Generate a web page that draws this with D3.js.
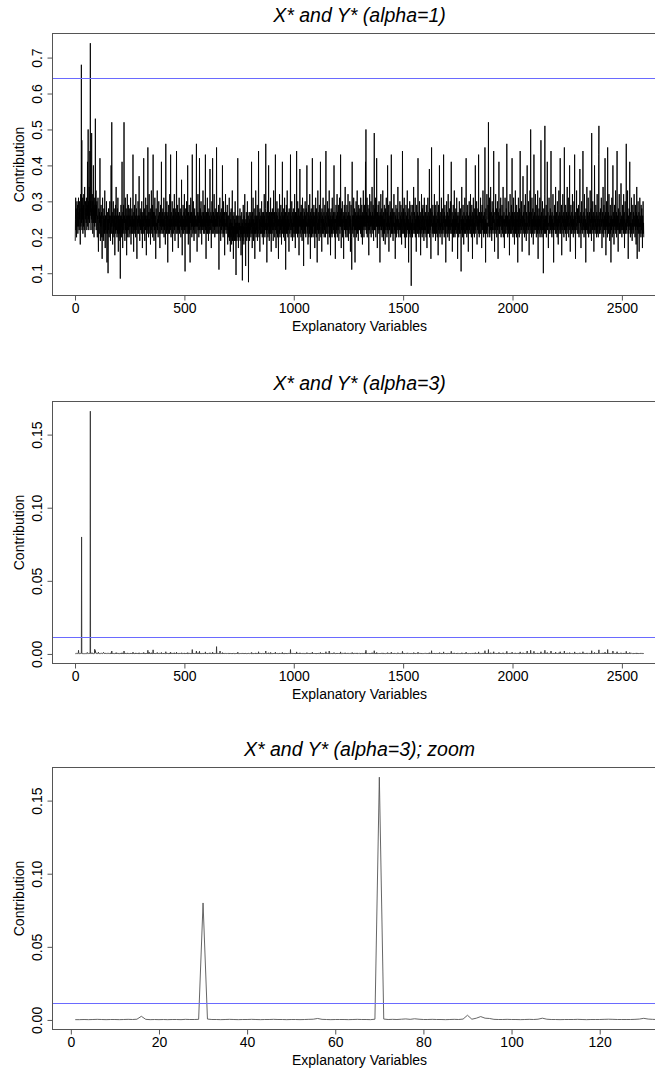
<!DOCTYPE html>
<html>
<head>
<meta charset="utf-8">
<script src="https://cdn.jsdelivr.net/npm/d3@7"></script>
<style>
  body { margin: 0; background: #fff; }
  svg { display: block; }
  text { font-family: "Liberation Sans", Arial, sans-serif; fill: #000; }
</style>
</head>
<body>
<svg id="chart" width="655" height="1072"></svg>
<script>
// Contribution of each explanatory variable, alpha = 1 (hundredths)
const contribAlpha1 = [
19,25,31,22,28,24,20,27,30,23, 26,29,21,25,28,31,23,27,22,30, 25,28,24,18,27,32,23,26,68,24, 47,22,28,25,31,21,27,29,23,32, 26,22,29,34,25,20,27,30,25,28,
24,31,27,22,29,26,41,23,28,50, 25,30,22,27,34,24,29,44,26,74, 27,30,22,28,25,49,29,24,32,27, 21,30,26,40,24,28,20,31,27,23, 29,25,53,24,27,33,22,29,26,30,
23,20,26,25,31,21,16,25,28,23, 21,27,24,42,22,19,26,23,29,20, 25,27,22,14,25,31,22,20,26,24, 19,28,23,25,21,33,24,17,26,22, 26,21,24,30,22,13,24,27,21,25,
10,23,28,22,25,20,26,24,30,21, 24,19,26,23,40,21,25,52,23,27, 22,18,26,24,30,21,25,20,28,23, 26,15,24,22,29,21,25,34,22,26, 23,20,25,28,21,31,24,16,26,22,
25,21,27,23,19,25,8.5,26,22,29, 24,20,26,23,41,21,25,17,27,22, 24,29,21,52,24,26,22,19,25,31, 22,25,21,28,24,15,26,22,32,23, 20,26,24,22,29,24,20,26,23,28,
21,25,23,31,22,18,26,24,21,28, 24,21,26,23,43,23,25,16,27,22, 24,29,21,25,23,26,20,32,22,25, 28,22,14,26,23,25,21,30,24,26, 21,25,37,23,26,19,24,28,22,25,
23,27,21,25,30,22,26,17,24,27, 21,25,23,42,24,21,28,23,19,26, 25,22,31,24,26,15,25,23,29,21, 26,23,45,22,25,20,27,24,32,23, 25,21,27,23,18,28,24,22,33,25,
21,26,23,29,20,25,43,23,27,24, 19,27,22,25,31,21,26,23,14,25, 28,23,24,21,27,33,22,25,23,20, 26,24,30,21,25,27,23,17,25,23, 29,21,26,24,41,22,25,21,27,23,
24,28,21,25,23,31,20,26,22,25, 27,23,18,25,46,23,27,21,25,30, 22,26,24,13,27,23,21,29,25,23, 25,21,32,23,26,22,43,24,20,27, 23,25,21,30,24,16,26,23,25,28,
21,26,23,32,22,25,19,28,24,23, 27,21,25,44,23,26,21,24,29,22, 25,17,27,23,22,31,25,21,26,24, 28,23,25,20,27,23,36,22,25,15, 26,24,21,29,23,25,21,27,23,32,
22,25,10.5,26,23,28,21,25,23,30, 24,21,27,23,40,21,25,18,27,22, 25,29,21,26,23,13,27,24,31,22, 25,23,27,20,24,43,23,26,21,25, 30,22,25,19,27,23,28,21,25,23,
26,24,21,29,46,23,25,16,27,23, 25,32,22,26,23,20,27,24,42,22, 25,21,28,23,25,30,22,26,18,24, 27,23,25,22,33,23,27,21,25,23, 29,24,21,26,23,43,22,25,14,27,
23,21,27,24,31,21,25,23,27,19, 24,28,22,26,23,21,39,24,25,22, 27,23,17,26,24,30,21,25,42,23, 25,21,27,23,25,32,22,26,20,24, 28,23,25,21,27,23,45,24,21,26,
23,27,24,21,25,29,22,11,26,23, 25,31,21,27,23,19,25,24,28,22, 26,21,25,40,23,27,20,24,30,21, 25,23,27,15,25,22,26,32,23,24, 21,27,23,25,22,29,24,18,26,23,
23,20,26,22,31,19,24,21,27,16, 23,25,20,28,22,18,24,22,33,19, 23,21,26,14,23,20,27,22,19,25, 21,30,23,19,24,9.5,26,21,24,19, 26,21,23,42,20,24,17,22,26,21,
20,24,22,28,19,23,21,26,15,23, 21,27,20,24,8,22,25,19,29,21, 23,18,26,21,23,32,20,24,22,12, 25,21,27,23,19,24,21,30,20,23, 22,26,7.5,24,21,27,23,19,25,21,
27,22,24,20,26,23,41,21,25,17, 23,27,21,31,23,19,25,22,28,21, 24,14,26,23,21,33,24,20,26,22, 25,21,29,19,24,26,21,24,44,23, 20,27,22,25,16,28,23,21,26,23,
24,21,30,23,26,20,24,27,21,25, 18,27,23,24,32,21,26,20,24,22, 28,46,23,25,21,27,13,24,22,30, 24,20,26,23,40,21,25,19,27,24, 21,26,22,31,21,24,16,27,23,25,
21,28,24,22,27,19,25,33,22,24, 23,27,20,26,24,43,22,25,17,27, 24,21,30,23,26,20,24,28,22,14, 25,23,27,21,32,24,20,26,22,24, 29,21,25,18,27,23,24,41,21,26,
23,25,20,28,22,26,21,31,19,24, 24,27,11,25,22,29,21,24,23,33, 21,26,20,24,27,22,25,16,28,23, 24,21,27,24,43,22,26,20,25,23, 30,22,24,19,27,24,21,28,23,25,
20,26,23,32,21,25,17,27,24,22, 27,21,44,24,23,26,20,30,22,25, 21,28,24,15,26,23,24,39,21,27, 23,25,20,29,24,22,27,19,24,31, 21,26,23,25,12,28,24,21,27,22,
24,30,21,26,20,24,28,23,25,40, 21,24,22,27,18,25,23,29,20,26, 24,21,32,23,25,14,27,22,24,28, 20,26,24,22,42,21,25,20,27,23, 24,29,21,26,23,17,27,24,21,31,
22,25,20,28,24,26,13,24,22,33, 23,27,21,25,24,19,29,22,26,21, 24,41,23,20,27,24,25,16,28,22, 26,21,24,31,21,25,23,27,20,24, 22,29,24,26,20,25,44,21,24,23,
27,21,24,30,22,18,26,23,24,28, 21,33,20,25,23,27,24,15,26,22, 28,24,21,25,20,31,23,26,21,24, 22,27,24,40,21,25,20,27,23,14, 25,24,29,21,26,22,24,32,20,27,
23,25,22,29,24,19,26,23,31,25, 21,27,23,43,23,25,17,28,24,22, 26,30,20,25,23,27,22,14,26,24, 29,22,26,23,34,21,25,20,27,23, 25,22,29,20,25,26,22,32,23,19,
27,24,21,26,23,30,22,26,16,25, 22,29,24,20,11,23,41,22,26,21, 26,23,25,31,20,26,22,28,24,13, 25,22,27,23,30,20,26,24,22,33, 21,26,23,27,19,25,29,22,26,22,
24,28,22,26,21,31,23,26,20,25, 29,22,26,18,27,24,22,33,23,26, 20,25,29,23,26,22,25,41,23,50, 24,21,27,23,31,20,26,24,29,22, 26,23,15,28,24,22,32,25,21,27,
23,26,30,20,26,24,23,34,22,27, 25,21,29,24,19,26,23,49,22,25, 28,22,25,31,20,27,24,23,42,23, 25,17,27,24,22,29,23,26,21,30, 24,22,26,13,27,23,25,32,22,26,
22,28,24,20,26,23,33,21,25,19, 27,24,22,29,21,25,23,18,28,24, 22,26,31,23,24,20,27,22,40,24, 21,25,23,29,16,26,22,24,22,30, 24,27,20,25,23,43,21,26,24,22,
28,21,24,19,27,23,25,32,21,24, 22,27,24,14,26,21,29,23,25,20, 24,28,22,26,23,34,21,25,24,20, 27,23,24,22,30,24,20,26,22,29, 23,25,18,27,24,21,44,24,22,26,
21,28,24,23,31,20,25,22,27,17, 24,22,29,24,26,20,25,23,33,22, 27,24,21,25,13,28,23,24,21,30, 24,20,26,22,25,29,6.5,24,21,27, 23,25,20,29,24,22,26,34,21,24,
22,27,24,21,31,20,25,23,26,16, 24,29,22,25,21,27,23,42,21,26, 24,20,25,22,30,24,21,27,23,15, 26,21,24,32,22,25,20,28,24,22, 29,23,21,26,19,24,31,22,25,21,
24,27,22,23,20,29,23,25,17,26, 21,24,31,22,27,21,23,25,23,39, 20,26,24,22,28,21,14,25,23,45, 24,27,21,24,22,29,20,26,24,21, 25,23,32,21,27,22,24,19,29,23,
26,21,24,23,30,20,25,24,27,15, 23,29,22,25,21,40,23,26,20,24, 22,27,24,21,31,23,25,18,28,22, 24,21,26,24,43,22,25,20,27,23, 29,24,21,25,13,26,23,24,30,21,
25,23,27,20,24,32,22,26,21,24, 19,28,23,25,22,30,24,21,26,41, 23,24,21,27,16,25,24,22,29,20, 26,23,24,33,21,25,20,27,24,22, 28,21,25,23,31,21,24,26,14,24,
27,22,24,20,26,23,30,21,25,24, 21,28,24,23,10.5,25,22,34,24,21, 26,20,24,29,22,25,18,27,23,24, 21,31,24,26,21,24,23,42,22,25, 20,27,24,22,29,21,25,16,26,23,
24,30,22,25,21,27,23,32,21,24, 26,20,24,29,23,25,14,27,22,24, 31,21,26,23,24,20,28,24,22,40, 25,21,27,23,24,30,21,18,26,24, 22,28,24,21,43,23,25,20,27,24,
21,26,24,31,21,25,23,27,17,24, 29,22,25,24,33,21,26,20,24,23, 27,21,24,45,22,25,13,28,23,24, 21,26,32,22,24,23,20,29,25,52, 23,26,21,24,31,20,27,24,22,34,
24,21,27,23,19,25,30,22,26,24, 21,28,24,44,22,25,23,16,27,24, 22,26,32,21,24,23,28,20,25,24, 30,22,25,14,27,23,24,41,21,26, 24,21,28,23,25,31,22,20,26,24,
22,29,24,21,26,23,34,20,25,24, 27,22,17,25,23,31,21,26,24,24, 21,28,23,46,24,22,26,20,25,24, 30,21,24,23,27,15,25,22,32,24, 21,26,23,25,29,21,24,42,22,27,
24,20,26,23,31,21,25,24,18,27, 22,24,33,21,26,23,25,20,29,24, 22,27,24,13,25,23,31,21,26,24, 20,28,24,22,44,23,25,21,27,24, 30,22,24,16,26,23,25,37,21,24,
27,22,24,29,20,25,23,26,32,21, 24,23,19,27,22,25,40,23,24,21, 26,24,30,22,25,15,27,23,24,33, 21,25,50,24,22,27,20,24,31,23, 25,21,28,24,18,26,23,43,22,24,
27,21,25,23,32,22,24,26,20,24, 29,23,25,21,33,24,14,26,22,24, 28,21,25,23,31,20,26,24,22,47, 24,21,27,23,20,25,30,22,24,26, 10,24,28,22,25,21,32,51,23,26,
21,25,24,29,20,26,23,24,41,22, 25,27,21,17,24,23,31,24,26,21, 25,23,28,22,24,44,21,26,24,20, 27,23,25,22,32,21,24,13,26,24, 22,29,24,23,26,21,34,24,25,21,
27,23,24,20,30,22,25,24,18,26, 23,33,21,25,24,27,22,42,24,21, 26,23,25,29,15,24,22,26,24,32, 21,25,23,27,20,24,45,22,26,24, 25,21,29,23,24,19,27,22,25,34,
23,26,21,24,31,24,20,27,23,25, 40,22,24,16,26,24,29,21,25,23, 27,21,24,32,22,26,24,20,25,23, 30,22,24,43,21,26,23,14,27,24, 22,25,33,23,24,21,28,24,26,21,
24,29,23,20,26,24,25,39,21,24, 23,27,17,25,24,30,22,26,21,24, 24,44,22,25,23,27,20,24,32,22, 26,24,21,25,13,28,23,24,22,34, 25,21,27,24,22,31,24,20,26,23,
21,27,24,23,33,21,25,24,28,22, 19,49,24,26,22,24,30,21,25,23, 27,16,24,22,40,24,26,21,25,23, 29,22,24,20,27,24,32,21,25,23, 26,20,24,43,51,23,25,21,27,24,
22,28,24,21,26,31,23,25,17,24, 24,27,21,34,23,25,20,29,24,22, 26,23,42,21,24,27,15,25,23,30, 24,22,26,20,45,24,23,27,21,25, 32,23,24,19,26,24,29,21,25,13,
24,26,22,31,24,20,25,23,40,24, 27,21,25,18,24,29,23,26,22,24, 33,21,25,23,27,20,24,44,22,26, 23,25,16,28,24,22,26,32,21,24, 23,27,21,25,24,35,22,24,26,20,
25,23,29,22,24,26,21,32,24,22, 27,17,25,24,30,21,24,23,26,46, 22,25,21,27,24,33,23,24,14,26, 24,21,28,23,25,41,22,24,20,27, 24,22,26,31,21,24,19,25,23,29,
22,24,27,21,25,32,23,24,26,20, 24,29,22,25,18,27,23,34,24,14, 26,22,24,30,21,25,23,27,16,24, 23,31,21,26,23,25,20,29,22,24, 28,21,25,17,26,23,30,21,24,20
];

// Contribution of each explanatory variable, alpha = 3 (ten-thousandths)
const contribAlpha3 = [
2,2,3,2,3,4,3,2,3,3, 2,3,4,3,5,25,4,2,3,2, 3,2,3,3,2,4,3,3,4,800, 6,3,3,2,3,4,3,2,3,3, 4,3,2,3,3,4,3,3,2,3,
3,2,3,4,5,10,4,3,2,3, 3,3,2,3,4,3,3,2,5,1660, 6,3,4,3,5,7,4,8,5,3, 3,4,3,3,2,3,4,3,6,32, 5,12,23,12,10,4,3,3,4,3,
3,2,3,4,3,5,12,5,3,3, 2,3,3,3,4,3,2,3,3,3, 4,5,4,3,3,3,3,4,6,11, 6,4,3,3,4,3,2,5,3,4, 3,2,4,3,3,2,3,4,2,3,
2,3,4,3,3,2,4,3,5,3, 3,2,4,3,8,3,4,20,3,5, 3,2,4,3,5,3,3,2,4,3, 4,2,3,3,5,3,3,9,2,4, 3,2,3,4,3,6,3,2,4,3,
3,2,4,3,2,3,1,4,3,6, 3,2,4,3,8,2,3,2,4,3, 3,5,2,20,3,4,3,2,3,6, 3,3,2,4,3,2,3,3,7,3, 2,4,3,3,5,3,2,4,3,4,
2,3,3,6,3,2,4,3,2,5, 3,2,4,3,12,3,4,2,4,3, 3,5,2,3,3,4,2,7,3,3, 5,3,2,4,3,3,2,6,3,4, 2,3,8,3,4,2,3,5,3,3,
3,4,2,3,6,3,4,2,3,4, 2,3,3,10,3,2,5,3,2,4, 3,3,6,3,4,2,3,3,5,2, 4,3,25,3,3,2,4,3,12,3, 4,2,4,3,2,5,3,3,8,3,
2,4,3,5,2,3,28,3,4,3, 2,4,3,3,6,2,4,3,2,3, 5,3,3,2,4,10,3,3,3,2, 4,3,6,2,3,4,3,2,3,3, 5,2,4,3,10,3,3,2,4,3,
3,5,2,3,3,6,2,4,3,3, 4,3,2,3,15,3,4,2,3,6, 3,4,3,1,4,3,2,5,3,3, 3,2,7,3,4,3,12,3,2,4, 3,3,2,6,3,2,4,3,3,5,
2,4,3,8,3,3,2,5,3,3, 4,2,3,12,3,4,2,3,5,3, 3,2,4,3,3,6,3,2,4,3, 5,3,3,2,4,3,8,3,3,2, 4,3,2,5,3,3,2,4,3,7,
3,3,1,4,3,5,2,3,3,6, 3,2,4,3,9,2,3,2,4,3, 3,5,2,4,3,2,4,3,6,3, 3,3,4,2,3,30,3,4,2,3, 6,3,3,2,4,3,5,2,3,3,
4,3,2,5,20,3,3,2,4,3, 3,8,2,4,3,2,4,3,18,3, 3,2,5,3,3,6,3,4,2,3, 4,3,3,2,6,3,4,2,3,3, 5,3,2,4,3,14,3,3,2,4,
3,2,4,3,6,2,3,3,4,2, 3,5,3,4,3,2,8,3,3,3, 4,3,2,4,3,5,2,3,12,3, 3,2,4,3,3,6,3,4,2,3, 5,3,3,2,4,3,50,3,2,4,
3,4,3,2,3,5,3,1,4,3, 3,6,20,4,3,2,3,3,5,3, 4,2,3,9,3,4,2,3,6,3, 3,3,4,2,3,3,4,6,3,3, 2,4,3,3,3,5,3,2,4,3,
3,2,4,3,6,2,3,2,4,2, 3,3,2,5,3,2,3,3,6,2, 3,3,4,1,3,2,4,3,2,3, 2,5,3,2,3,1,4,3,3,2, 4,2,3,12,2,3,2,3,4,3,
2,3,3,5,2,3,2,4,2,3, 3,4,2,3,1,3,3,2,5,2, 3,2,4,3,3,6,2,3,3,1, 3,2,4,3,2,3,3,5,2,3, 3,4,1,3,2,4,3,2,3,3,
4,3,3,2,4,3,10,2,3,2, 3,4,3,6,3,2,3,3,5,2, 3,2,4,3,3,7,3,2,4,3, 3,3,5,2,3,4,2,3,15,3, 2,4,3,3,2,5,3,3,4,3,
3,2,5,3,4,2,3,4,3,3, 2,4,3,3,6,3,4,2,3,3, 5,20,3,3,2,4,2,3,3,5, 3,2,4,3,8,3,3,2,4,3, 3,4,3,10,2,3,2,4,3,3,
2,5,3,3,4,2,3,6,3,3, 3,4,2,4,3,12,3,3,2,4, 3,3,5,3,4,2,3,5,3,2, 3,3,4,2,6,3,2,4,3,3, 5,3,3,2,4,3,3,10,2,4,
3,3,2,5,3,4,3,6,2,3, 3,4,1,3,3,5,2,3,3,6, 3,4,2,3,4,3,3,2,5,3, 3,2,4,3,30,3,4,2,3,3, 5,3,3,2,4,3,3,5,3,3,
2,4,3,6,3,3,2,4,3,3, 4,2,14,3,3,4,2,5,3,3, 3,5,3,2,4,3,3,8,2,4, 3,3,2,5,3,3,4,2,3,6, 3,4,3,3,1,4,3,2,4,3,
3,5,3,4,2,3,5,3,3,9, 2,3,3,4,2,3,3,5,2,4, 3,3,6,3,3,2,4,3,3,5, 2,4,3,3,12,3,3,2,4,3, 3,5,2,4,3,2,4,3,3,6,
3,3,2,5,3,4,1,3,3,6, 3,4,2,3,3,2,5,3,4,3, 3,10,3,2,4,3,3,2,5,3, 4,3,3,6,2,3,3,4,2,3, 3,5,3,4,2,3,15,3,3,3,
4,2,3,5,3,2,4,3,3,5, 3,20,2,3,3,4,3,2,4,3, 5,3,3,3,2,6,3,4,2,3, 3,4,3,9,3,3,2,4,3,2, 3,3,5,2,4,3,3,6,2,4,
3,3,3,5,3,2,4,3,6,3, 2,4,3,14,3,3,2,4,3,3, 4,5,2,3,3,4,3,1,3,3, 5,3,4,3,8,2,3,2,4,3, 3,3,5,2,3,4,3,6,3,2,
4,3,2,3,3,5,3,4,2,3, 3,5,3,2,1,3,10,3,3,2, 4,3,3,6,2,3,3,4,3,1, 3,3,4,3,5,2,4,3,3,7, 2,3,3,4,2,3,5,3,4,3,
3,4,3,3,2,6,3,4,2,3, 5,3,3,2,4,3,3,6,3,4, 2,3,5,3,4,3,3,10,3,25, 3,2,4,3,5,2,3,3,5,3, 4,3,2,4,3,3,6,3,2,4,
3,3,5,2,4,3,3,8,3,4, 3,2,5,3,2,4,3,22,3,3, 4,3,3,6,2,4,3,3,10,3, 3,2,4,3,3,5,3,4,2,5, 3,3,3,1,4,3,3,6,3,4,
3,4,3,2,4,3,7,3,3,2, 4,3,3,5,2,3,3,2,4,3, 3,4,6,3,3,2,4,3,9,3, 2,3,3,5,2,4,3,3,3,5, 3,4,2,3,3,12,3,4,3,3,
5,3,3,2,4,3,3,6,2,3, 3,4,3,1,4,3,5,3,3,2, 3,4,3,4,3,8,2,3,3,2, 4,3,3,3,5,3,2,4,3,5, 3,3,2,4,3,3,18,3,3,4,
2,4,3,3,6,2,3,3,4,2, 3,3,5,3,4,2,3,3,7,3, 4,3,2,3,1,4,3,3,3,5, 3,2,4,3,3,5,1,3,3,4, 3,3,2,5,3,3,4,9,2,3,
3,4,3,3,6,2,3,3,4,2, 3,5,3,3,2,4,3,12,3,4, 3,2,3,3,5,3,2,4,3,1, 4,3,3,6,3,3,2,4,3,3, 5,3,3,4,2,3,5,3,3,2,
3,4,3,3,2,5,3,3,2,4, 3,3,6,3,4,2,3,3,3,8, 2,4,3,3,4,3,1,3,3,22, 3,4,2,3,3,5,2,4,3,3, 3,3,6,2,4,3,3,2,5,3,
4,3,3,3,5,2,3,3,4,1, 3,5,3,3,3,9,3,4,2,3, 3,4,3,2,6,3,3,2,5,3, 3,3,4,3,14,3,3,2,4,3, 5,3,3,3,1,4,3,3,5,2,
3,3,4,2,3,6,3,4,3,3, 2,5,3,3,3,5,3,2,4,18, 3,3,3,4,2,3,3,3,5,2, 4,3,3,7,3,3,2,4,3,3, 5,3,3,3,6,2,3,4,1,3,
4,3,3,2,4,3,5,3,3,3, 2,5,3,3,1,3,3,8,3,3, 4,2,3,5,3,3,2,4,3,3, 3,6,3,4,2,3,3,12,3,3, 2,4,3,3,5,3,3,2,4,3,
3,5,3,3,2,4,3,6,3,3, 4,2,3,5,3,3,1,4,3,3, 6,3,4,3,3,2,5,3,3,9, 3,2,4,3,3,5,3,2,4,3, 3,5,3,3,14,3,3,2,4,3,
3,4,3,5,2,3,3,4,2,3, 5,3,3,3,7,3,4,2,3,3, 4,3,3,22,3,3,1,5,3,3, 2,4,6,3,3,3,2,5,3,30, 3,4,3,3,5,2,4,3,3,8,
3,3,4,3,2,3,5,3,4,3, 2,5,3,15,3,3,3,2,4,3, 3,4,6,3,3,3,5,2,3,3, 5,3,3,1,4,3,3,10,3,4, 3,2,5,3,3,6,3,2,4,3,
3,5,3,3,4,3,8,2,3,3, 4,3,2,3,3,5,3,4,3,3, 2,5,3,18,3,3,4,2,3,3, 5,3,3,3,4,1,3,3,6,3, 2,4,3,3,5,3,3,12,3,4,
3,2,4,3,5,3,3,3,2,4, 3,3,7,3,4,3,3,2,5,3, 3,4,3,1,3,3,6,3,4,3, 2,5,3,3,14,3,3,2,4,3, 5,3,3,2,4,3,3,8,3,3,
4,3,3,5,2,3,3,4,6,3, 3,3,2,4,3,3,20,3,3,2, 4,3,5,3,3,2,4,3,3,6, 3,3,25,3,3,4,2,3,5,3, 3,3,4,3,2,4,3,18,3,3,
4,2,3,3,6,3,3,4,2,3, 5,3,3,3,7,3,1,4,3,3, 4,3,3,3,5,2,4,3,3,15, 3,3,4,3,2,3,5,3,3,4, 1,3,4,3,3,2,6,25,3,4,
3,3,3,5,2,4,3,3,10,3, 3,4,3,2,3,3,5,3,4,2, 3,3,4,3,3,20,3,4,3,2, 4,3,3,3,6,3,3,1,4,3, 3,5,3,3,4,2,12,3,3,3,
4,3,3,2,5,3,3,3,2,4, 3,8,3,3,3,4,3,15,3,2, 4,3,3,5,1,3,3,4,3,6, 3,3,3,4,2,3,20,3,4,3, 3,2,5,3,3,2,4,3,3,7,
3,4,3,3,5,3,2,4,3,3, 9,3,3,1,4,3,5,3,3,3, 4,2,3,6,3,4,3,2,3,3, 5,3,3,14,3,4,3,1,4,3, 3,3,6,3,3,2,5,3,4,3,
3,5,3,2,4,3,3,8,3,3, 3,4,1,3,3,5,3,4,2,3, 3,15,3,3,3,4,2,3,6,3, 4,3,3,3,1,5,3,3,3,7, 3,2,4,3,3,5,3,2,4,3,
3,4,3,3,6,2,3,3,5,3, 2,22,3,4,3,3,5,3,3,3, 4,1,3,3,10,3,4,2,3,3, 5,3,3,2,4,3,6,3,3,3, 4,2,3,14,28,3,3,3,4,3,
3,5,3,2,4,5,3,3,1,3, 3,4,3,7,3,3,2,5,3,3, 4,3,12,3,3,4,1,3,3,5, 3,3,4,2,30,3,3,4,3,3, 6,3,3,2,4,3,5,3,3,1,
3,4,3,5,3,2,3,3,20,3, 4,3,3,2,3,5,3,4,3,3, 6,3,3,3,4,2,3,15,3,4, 3,3,1,5,3,3,4,6,3,3, 3,4,2,3,3,8,3,3,4,2,
3,3,5,3,3,4,2,6,3,3, 4,1,3,3,5,3,3,3,4,18, 3,3,2,4,3,6,3,3,1,4, 3,3,5,3,3,10,3,3,2,4, 3,3,4,5,3,3,2,3,3,5,
3,3,4,2,3,6,3,3,4,2, 3,5,3,3,2,4,3,7,3,1, 4,3,3,5,2,3,3,4,1,3, 3,5,3,4,3,3,2,5,3,3, 4,3,3,2,4,3,5,2,3,2
];

// Reference (cut-off) levels drawn as horizontal lines
const cutoffAlpha1 = 0.643;
const cutoffAlpha3 = 0.0112;

// Axis ticks
const xTicksFull = [0, 500, 1000, 1500, 2000, 2500];
const xTicksZoom = [0, 20, 40, 60, 80, 100, 120];
const yTicksAlpha1 = [0.1, 0.2, 0.3, 0.4, 0.5, 0.6, 0.7];
const yTicksAlpha3 = [0, 0.05, 0.10, 0.15];

// Variable range shown in the zoomed panel
const zoomVars = [1, 130];

const titles = ["X* and Y* (alpha=1)", "X* and Y* (alpha=3)", "X* and Y* (alpha=3); zoom"];

const svg = d3.select("#chart");

const seriesA1 = contribAlpha1.map((v, i) => ({ x: i + 1, y: v / 100 }));
const seriesA3 = contribAlpha3.map((v, i) => ({ x: i + 1, y: v / 10000 }));

// 4% padding around a data range
function padRange([lo, hi]) {
  const d = (hi - lo) * 0.04;
  return [lo - d, hi + d];
}

const plotLeft = 52.5, plotRight = 666.5, plotH = 262;
const panelTops = [33.5, 401.5, 767.5];
const fontStack = "Liberation Sans, Arial, sans-serif";

function drawPanel(idx, series, xDomain, yDomain, xTicks, yTicks, yFmt, cutoff, lineStyle) {
  const top = panelTops[idx], bottom = top + plotH;
  const x = d3.scaleLinear().domain(xDomain).range([plotLeft, plotRight]);
  const y = d3.scaleLinear().domain(yDomain).range([bottom, top]);
  const g = svg.append("g");

  const clipId = "clip" + idx;
  g.append("clipPath").attr("id", clipId)
    .append("rect").attr("x", plotLeft).attr("y", top)
    .attr("width", plotRight - plotLeft).attr("height", plotH);

  const line = d3.line().x(d => x(d.x)).y(d => y(d.y));
  g.append("path")
    .datum(series)
    .attr("clip-path", `url(#${clipId})`)
    .attr("d", line)
    .attr("fill", "none")
    .attr("stroke", lineStyle.color)
    .attr("stroke-width", lineStyle.width)
    .attr("stroke-linejoin", "round");

  // plot box
  g.append("rect")
    .attr("x", plotLeft).attr("y", top)
    .attr("width", plotRight - plotLeft).attr("height", plotH)
    .attr("fill", "none").attr("stroke", "#555").attr("stroke-width", 1);

  // cut-off level, one device pixel tall
  const yc = Math.floor(y(cutoff));
  g.append("rect")
    .attr("x", plotLeft + 0.5).attr("y", yc)
    .attr("width", plotRight - plotLeft - 0.5).attr("height", 1)
    .attr("fill", "#6a6aff")
    .attr("shape-rendering", "crispEdges");

  // x axis
  const xa = g.append("g").attr("transform", `translate(0,${bottom})`)
    .call(d3.axisBottom(x).tickValues(xTicks).tickFormat(d3.format("d"))
      .tickSize(5).tickPadding(3).tickSizeOuter(0));
  xa.select(".domain").remove();
  xa.selectAll(".tick line").attr("stroke", "#555");
  xa.selectAll(".tick text").attr("font-size", 14).attr("font-family", fontStack).attr("fill", "#000");

  // y axis with labels parallel to the axis
  const ya = g.append("g").attr("transform", `translate(${plotLeft},0)`)
    .call(d3.axisLeft(y).tickValues(yTicks).tickFormat(d3.format(yFmt)).tickSize(5).tickSizeOuter(0));
  ya.select(".domain").remove();
  ya.selectAll(".tick line").attr("stroke", "#555");
  ya.selectAll(".tick text")
    .attr("x", null).attr("dy", null)
    .attr("transform", "translate(-10.5,0) rotate(-90)")
    .attr("text-anchor", "middle")
    .attr("font-size", 14).attr("font-family", fontStack).attr("fill", "#000");

  const cx = (plotLeft + plotRight) / 2;
  svg.append("text")
    .attr("x", cx).attr("y", top - 11.5)
    .attr("text-anchor", "middle")
    .attr("font-size", 19.5).attr("font-style", "italic")
    .text(titles[idx]);

  svg.append("text")
    .attr("x", cx).attr("y", bottom + 35)
    .attr("text-anchor", "middle").attr("font-size", 14)
    .text("Explanatory Variables");

  svg.append("text")
    .attr("transform", `translate(24,${(top + bottom) / 2}) rotate(-90)`)
    .attr("text-anchor", "middle").attr("font-size", 14)
    .text("Contribution");
}

const fullX = padRange([1, seriesA1.length]);
const yA1 = padRange(d3.extent(seriesA1, d => d.y));
const yA3 = padRange(d3.extent(seriesA3, d => d.y));

drawPanel(0, seriesA1, fullX, yA1, xTicksFull, yTicksAlpha1, ".1f", cutoffAlpha1, { color: "#000", width: 0.9 });
drawPanel(1, seriesA3, padRange([1, seriesA3.length]), yA3, xTicksFull, yTicksAlpha3, ".2f", cutoffAlpha3, { color: "#333", width: 0.9 });
drawPanel(2, seriesA3, padRange(zoomVars), yA3, xTicksZoom, yTicksAlpha3, ".2f", cutoffAlpha3, { color: "#555", width: 0.9 });
</script>
</body>
</html>
